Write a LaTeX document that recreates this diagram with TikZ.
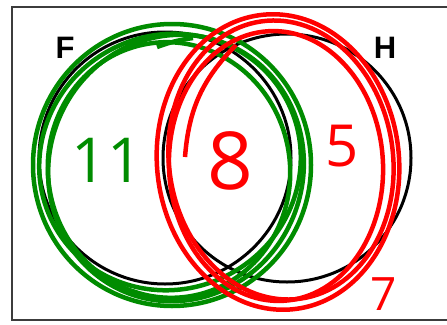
\documentclass[tikz,border=0pt]{standalone}
\usepackage{fontspec}
\setmainfont{Open Sans}
\newfontfamily\setfont{Liberation Sans}
\usetikzlibrary{positioning}
\definecolor{penred}{RGB}{255,0,0}
\definecolor{pengreen}{RGB}{0,140,0}
\definecolor{framegray}{RGB}{60,60,60}

\begin{document}
\begin{tikzpicture}[
    x=1pt, y=-1pt,
    setline/.style={draw=black, line width=3pt},
    greenloop/.style={draw=pengreen, line width=4.5pt},
    redloop/.style={draw=penred, line width=4.5pt},
    setname/.style={font=\setfont\bfseries\fontsize{31}{31}\selectfont, inner sep=0pt},
    count/.style={inner sep=0pt}
]
\useasboundingbox (0,0) rectangle (447,324);

% Universe
\draw[framegray, line width=2.2pt] (12,7) rectangle (470,320);

% Sets
\draw[setline] (165,158) circle[radius=126];
\draw[setline] (287,158) circle[radius=124];
\node[setname] (lblF) at (65,48) {F};
\node[setname] (lblH) at (385,48) {H};

% Green loops (F)
\draw[greenloop] (172,165) ellipse[x radius=139, y radius=141];
\draw[greenloop] (170,162) ellipse[x radius=132, y radius=127, rotate=30];
\draw[greenloop] (176,168) ellipse[x radius=127, y radius=134, rotate=-20];
\draw[greenloop] (169,170) ellipse[x radius=121, y radius=128, rotate=10];
\draw[greenloop] (157,47) to[bend left=6] (193,38);

% Red loops (H)
\draw[redloop] (278,162) ellipse[x radius=121, y radius=148, rotate=6];
\draw[redloop] (281,160) ellipse[x radius=112, y radius=140, rotate=8];
\draw[redloop] (276,166) ellipse[x radius=107, y radius=135, rotate=3];
\draw[redloop] (185,157) to[bend left=20] (236,45);

% Counts
\node[count, pengreen, font=\fontsize{62}{62}\selectfont] (onlyF) at (107,160) {11};
\node[count, penred, font=\fontsize{80}{80}\selectfont] (both) at (230,161) {8};
\node[count, penred, font=\fontsize{58}{58}\selectfont] (onlyH) at (342,146) {5};
\node[count, penred, font=\fontsize{46}{46}\selectfont] (neither) at (384,294) {7};

\end{tikzpicture}
\end{document}
